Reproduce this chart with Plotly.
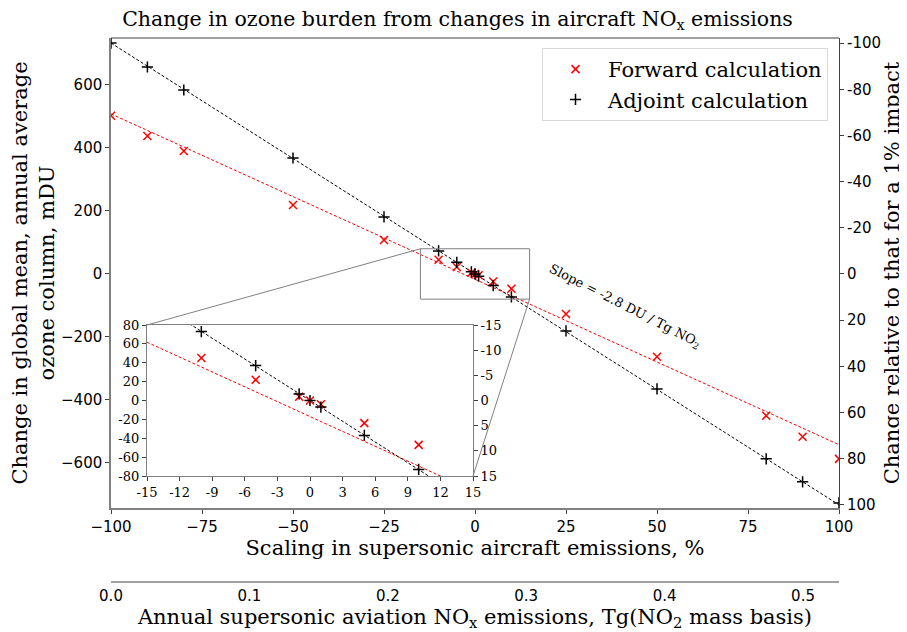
import plotly.graph_objects as go

# scaling of supersonic emissions, %
scaling = [-100, -90, -80, -50, -25, -10, -5, -1, 0, 1, 5, 10, 25, 50, 80, 90, 100]
# change in ozone column, mDU
forward = [502, 438, 390, 219, 108, 45, 22, 4, 0, -4, -24, -47, -127, -263, -450, -517, -587]
adjoint = [733, 657, 584, 368, 181, 73, 37, 7, 0, -7, -37, -73, -181, -365, -587, -660, -727]

# fitted lines (end points)
fit_x = [-100, 100]
forward_fit = [508, -542]
adjoint_fit = [733, -733]

right_ticks = [-100, -80, -60, -40, -20, 0, 20, 40, 60, 80, 100]
inset_y_ticks = [-80, -60, -40, -20, 0, 20, 40, 60, 80]
inset_x_ticks = [-15, -12, -9, -6, -3, 0, 3, 6, 9, 12, 15]
inset_r_ticks = [-15, -10, -5, 0, 5, 10, 15]

SERIF = "DejaVu Serif, Liberation Serif, serif"
SANS = "DejaVu Sans, sans-serif"

# page body has an 8px margin, so the figure is drawn 8px in from the window corner
OFF = 8
W, H = 907 - OFF, 632 - OFF
left_px, right_px, top_px, bot_px = 111, 839, 38, 582  # plot area in window pixels
ml, mt = left_px - OFF, top_px - OFF
pw, ph = right_px - left_px, bot_px - top_px
mr, mb = W - ml - pw, H - mt - ph

def fx(px):
    return (px - left_px) / pw

def fy(py):
    return (bot_px - py) / ph

xr = [-100, 100]
yr = [-743, 749]
main_dom_x = [0, 1]
main_dom_y = [fy(508), 1]
ins_dom_x = [fx(147), fx(473)]
ins_dom_y = [fy(476), fy(325)]

fig = go.Figure()

# main axes
fig.add_trace(go.Scatter(x=fit_x, y=forward_fit, mode="lines", showlegend=False,
                         line=dict(color="red", width=1, dash="3px,2px"), hoverinfo="skip"))
fig.add_trace(go.Scatter(x=fit_x, y=adjoint_fit, mode="lines", showlegend=False,
                         line=dict(color="black", width=1, dash="3px,2px"), hoverinfo="skip"))
fig.add_trace(go.Scatter(x=scaling, y=forward, mode="markers", name="Forward calculation",
                         marker=dict(symbol="x-thin", size=8, line=dict(color="red", width=1.5), color="red")))
fig.add_trace(go.Scatter(x=scaling, y=adjoint, mode="markers", name="Adjoint calculation",
                         marker=dict(symbol="cross-thin", size=8, line=dict(color="black", width=1.5), color="black")))

# inset axes
for ys, col in [(forward_fit, "red"), (adjoint_fit, "black")]:
    fig.add_trace(go.Scatter(x=fit_x, y=ys, mode="lines", showlegend=False, xaxis="x2", yaxis="y2",
                             line=dict(color=col, width=1, dash="3px,2px"), hoverinfo="skip"))
fig.add_trace(go.Scatter(x=scaling, y=forward, mode="markers", showlegend=False, xaxis="x2", yaxis="y2",
                         marker=dict(symbol="x-thin", size=8, line=dict(color="red", width=1.5))))
fig.add_trace(go.Scatter(x=scaling, y=adjoint, mode="markers", showlegend=False, xaxis="x2", yaxis="y2",
                         marker=dict(symbol="cross-thin", size=8, line=dict(color="black", width=1.5))))

# dummy traces so the extra axes get drawn
fig.add_trace(go.Scatter(x=[0], y=[0], yaxis="y3", mode="markers", marker=dict(opacity=0),
                         showlegend=False, hoverinfo="skip"))
fig.add_trace(go.Scatter(x=[0], y=[0], xaxis="x2", yaxis="y4", mode="markers", marker=dict(opacity=0),
                         showlegend=False, hoverinfo="skip"))
fig.add_trace(go.Scatter(x=[0.1], y=[0], xaxis="x3", yaxis="y", mode="markers", marker=dict(opacity=0),
                         showlegend=False, hoverinfo="skip"))

tick_font = dict(family=SANS, size=15, color="black")
inset_font = dict(family=SERIF, size=13, color="black")
title_font = dict(family=SERIF, size=21, color="black")

fig.update_layout(
    width=W, height=H,
    margin=dict(l=ml, r=mr, t=mt, b=mb, autoexpand=False),
    plot_bgcolor="white", paper_bgcolor="white",
    title=dict(text="Change in ozone burden from changes in aircraft NO<sub>x</sub> emissions",
               x=fx(475), xanchor="center", y=1 - (19 - OFF) / H, yanchor="middle",
               font=dict(family=SERIF, size=20.5, color="black")),
    xaxis=dict(domain=main_dom_x, range=xr, anchor="y", tickvals=[-100, -75, -50, -25, 0, 25, 50, 75, 100],
               showgrid=False, zeroline=False, showline=True, linecolor="#808080", linewidth=1.5,
               ticks="outside", ticklen=4, tickcolor="#404040", tickfont=tick_font, automargin=False,
               title=dict(text="Scaling in supersonic aircraft emissions, %", font=title_font, standoff=4)),
    yaxis=dict(domain=main_dom_y, range=yr, anchor="x", tickvals=[-600, -400, -200, 0, 200, 400, 600],
               showgrid=False, zeroline=False, showline=True, linecolor="#808080", linewidth=1.5,
               ticks="outside", ticklen=4, tickcolor="#404040", tickfont=tick_font, automargin=False,
               title=dict(text="Change in global mean, annual average<br>ozone column, mDU",
                          font=title_font, standoff=3)),
    yaxis3=dict(overlaying="y", side="right", anchor="x", range=[101.4, -102.2],
                tickvals=right_ticks, ticktext=[str(v) for v in right_ticks],
                showgrid=False, zeroline=False, showline=True, linecolor="#404040", linewidth=1,
                ticks="outside", ticklen=4, tickcolor="#404040", tickfont=tick_font, automargin=False,
                title=dict(text="Change relative to that for a 1% impact", font=title_font, standoff=4)),
    xaxis3=dict(domain=main_dom_x, anchor="free", position=0, overlaying="x", range=[0, 0.526],
                tickvals=[0, 0.1, 0.2, 0.3, 0.4, 0.5], ticktext=["0.0", "0.1", "0.2", "0.3", "0.4", "0.5"],
                showgrid=False, zeroline=False, showline=True, linecolor="#a0a0a0", linewidth=2,
                ticks="", tickfont=tick_font, automargin=False,
                title=dict(text="Annual supersonic aviation NO<sub>x</sub> emissions, Tg(NO<sub>2</sub> mass basis)",
                           font=title_font, standoff=2)),
    xaxis2=dict(domain=ins_dom_x, anchor="y2", range=[-15, 15], tickvals=inset_x_ticks,
                ticktext=[str(v) for v in inset_x_ticks],
                showgrid=False, zeroline=False, showline=True, mirror=True, linecolor="#808080", linewidth=1.2,
                ticks="outside", ticklen=4, tickcolor="#404040", tickfont=inset_font),
    yaxis2=dict(domain=ins_dom_y, anchor="x2", range=[-80, 80], tickvals=inset_y_ticks,
                ticktext=[str(v) for v in inset_y_ticks],
                showgrid=False, zeroline=False, showline=True, mirror=True, linecolor="#808080", linewidth=1.2,
                ticks="outside", ticklen=4, tickcolor="#404040", tickfont=inset_font),
    yaxis4=dict(overlaying="y2", side="right", anchor="x2", range=[15, -15], tickvals=inset_r_ticks,
                ticktext=[str(v) for v in inset_r_ticks],
                showgrid=False, zeroline=False, showline=False,
                ticks="outside", ticklen=4, tickcolor="#404040", tickfont=inset_font),
    legend=dict(x=fx(828), xanchor="right", y=fy(48), yanchor="top",
                font=dict(family=SERIF, size=21, color="black"),
                bgcolor="rgba(255,255,255,0.8)", bordercolor="#d8d8d8", borderwidth=1,
                itemwidth=55),
    showlegend=True,
)

# top spine
fig.add_shape(type="line", xref="x domain", yref="y domain", x0=0, x1=1, y0=1, y1=1,
              line=dict(color="#404040", width=1))

# zoom rectangle and connector lines
fig.add_shape(type="rect", xref="x", yref="y", x0=-15, x1=15, y0=-80, y1=80,
              line=dict(color="#808080", width=1))

def to_main_x(frac):
    return xr[0] + (frac - main_dom_x[0]) / (main_dom_x[1] - main_dom_x[0]) * (xr[1] - xr[0])

def to_main_y(frac):
    return yr[0] + (frac - main_dom_y[0]) / (main_dom_y[1] - main_dom_y[0]) * (yr[1] - yr[0])

fig.add_shape(type="line", xref="x", yref="y", x0=-15, y0=80,
              x1=to_main_x(ins_dom_x[0]), y1=to_main_y(ins_dom_y[1]),
              line=dict(color="#808080", width=1))
fig.add_shape(type="line", xref="x", yref="y", x0=15, y0=-80,
              x1=to_main_x(ins_dom_x[1]), y1=to_main_y(ins_dom_y[0]),
              line=dict(color="#808080", width=1))

fig.add_annotation(x=fx(625), y=fy(306), xref="paper", yref="paper", showarrow=False,
                   xanchor="center", yanchor="middle",
                   text="Slope = -2.8 DU / Tg NO<sub>2</sub>", textangle=27,
                   font=dict(family=SERIF, size=13, color="black"))

fig.write_html("out.html")
